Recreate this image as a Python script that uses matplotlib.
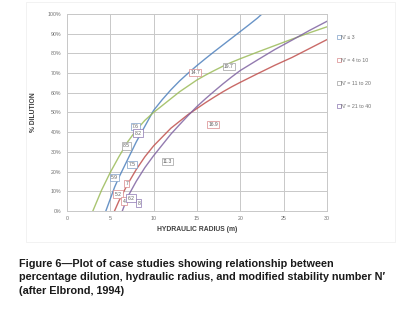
import matplotlib
matplotlib.use("Agg")
import matplotlib.pyplot as plt
from matplotlib.lines import Line2D
from matplotlib.patches import Rectangle

plt.rcParams["font.family"] = ["Liberation Sans", "DejaVu Sans"]

# Curvas (radio hidraulico, % dilucion)
blue_x = [4.5, 5, 5.5, 6, 7, 8, 9, 10, 11, 12, 13, 14, 15, 16, 17, 18, 19, 20, 21, 22, 22.5]
blue_y = [0, 6, 12, 17, 26, 35, 43, 51, 56.5, 61.5, 66, 70, 73.8, 77.4, 80.9, 84.3, 87.7, 91.1, 94.5, 98, 100]

red_x = [5.5, 6, 7, 8, 9, 10, 11, 12, 13, 14, 15, 16, 17, 18, 19, 20, 22, 24, 26, 28, 30]
red_y = [0, 5, 13.5, 21, 27.5, 33, 37.5, 42, 45.5, 49, 52, 55, 57.8, 60.5, 63, 65.3, 69.7, 74, 78, 82.5, 87]

green_x = [3.0, 4, 5, 6, 7, 8, 9, 10, 11, 12, 13, 14, 15, 16, 17, 18, 19, 20, 22, 24, 26, 28, 30]
green_y = [0, 10.5, 19.5, 27.5, 35, 41, 46, 50, 53.5, 57, 60.5, 63.5, 66.5, 69, 71.3, 73.5, 75.5, 77.3, 80.7, 84, 87.3, 90.5, 93.5]

purple_x = [6.4, 7, 8, 9, 10, 11, 12, 13, 14, 15, 16, 17, 18, 19, 20, 22, 24, 26, 28, 30]
purple_y = [0, 7, 15, 22, 28, 33.5, 39, 43.8, 48.5, 53, 57, 60.8, 64.5, 68, 71.3, 76.7, 82, 86.8, 91.7, 96.3]

# Casos etiquetados: x, y, etiqueta, serie
case_x = [14.8, 18.7, 16.9, 11.6, 7.9, 8.2, 6.9, 7.5, 5.5, 6.9, 5.9, 6.6, 7.4, 8.3]
case_y = [70.4, 73.3, 44, 25, 43, 39.5, 33, 23.5, 17, 14, 8.5, 5, 6.5, 4]
case_lbl = ["14.7", "19.7", "16.9", "11.3", "7.6", "8.2", "8.5", "7.5", "5.9", "7", "5.2", "4", "6.2", "8"]
case_ser = [1, 2, 1, 2, 0, 3, 2, 0, 0, 1, 1, 1, 3, 3]

series_names = ["N' \u2264 3", "N' = 4 to 10", "N' = 11 to 20", "N' = 21 to 40"]
series_cols = ["#4F81BD", "#C0504D", "#9BBB59", "#8064A2"]
box_cols = ["#7f9fc8", "#d9888a", "#a0a0a0", "#8a74b0"]

x_ticks = [0, 5, 10, 15, 20, 25, 30]
y_ticks = [0, 10, 20, 30, 40, 50, 60, 70, 80, 90, 100]

fig = plt.figure(figsize=(4.03, 3.2), dpi=100)
fig.patches.append(Rectangle((0.065, 0.245), 0.915, 0.75, transform=fig.transFigure,
                             fill=False, edgecolor="#f0f0f0", lw=0.6))
ax = fig.add_axes([0.166, 0.341, 0.645, 0.615])

for xs, ys, c in zip([blue_x, red_x, green_x, purple_x], [blue_y, red_y, green_y, purple_y], series_cols):
    ax.plot(xs, ys, color=c, lw=1.0, alpha=0.85)

for x, y, t, s in zip(case_x, case_y, case_lbl, case_ser):
    ax.text(x, y, t, fontsize=3.6, color="#606060", ha="center", va="center",
            bbox=dict(boxstyle="square,pad=0.25", fc="white", ec=box_cols[s], lw=0.5))

ax.set_xlim(0, 30)
ax.set_ylim(0, 100)
ax.set_xticks(x_ticks)
ax.set_yticks(y_ticks)
ax.set_yticklabels([f"{v}%" for v in y_ticks])
ax.tick_params(labelsize=3.8, colors="#707070", length=0, pad=4)
ax.grid(True, color="#c8c8c8", lw=0.7)
ax.set_axisbelow(True)
for sp in ax.spines.values():
    sp.set_color("#c8c8c8")
    sp.set_linewidth(0.7)

ax.set_xlabel("HYDRAULIC RADIUS (m)", fontsize=4.9, fontweight="bold", color="#404040", labelpad=3)
ax.set_ylabel("% DILUTION", fontsize=4.9, fontweight="bold", color="#404040", labelpad=8)

handles = [Line2D([], [], ls="none", marker="s", ms=2.6, mfc="white", mec=c, mew=0.5) for c in box_cols]
fig.legend(handles, series_names, loc="upper left", bbox_to_anchor=(0.825, 0.905),
           frameon=False, fontsize=3.8, labelcolor="#707070", handlelength=0.6,
           handletextpad=0.2, labelspacing=3.4)

caption = ("Figure 6\u2014Plot of case studies showing relationship between\n"
           "percentage dilution, hydraulic radius, and modified stability number N\u2032\n"
           "(after Elbrond, 1994)")
fig.text(0.047, 0.192, caption, fontsize=7.8, fontweight="bold", color="#1a1a1a",
         va="top", ha="left", linespacing=1.48)

fig.savefig("out.png", dpi=100)
plt.close(fig)
